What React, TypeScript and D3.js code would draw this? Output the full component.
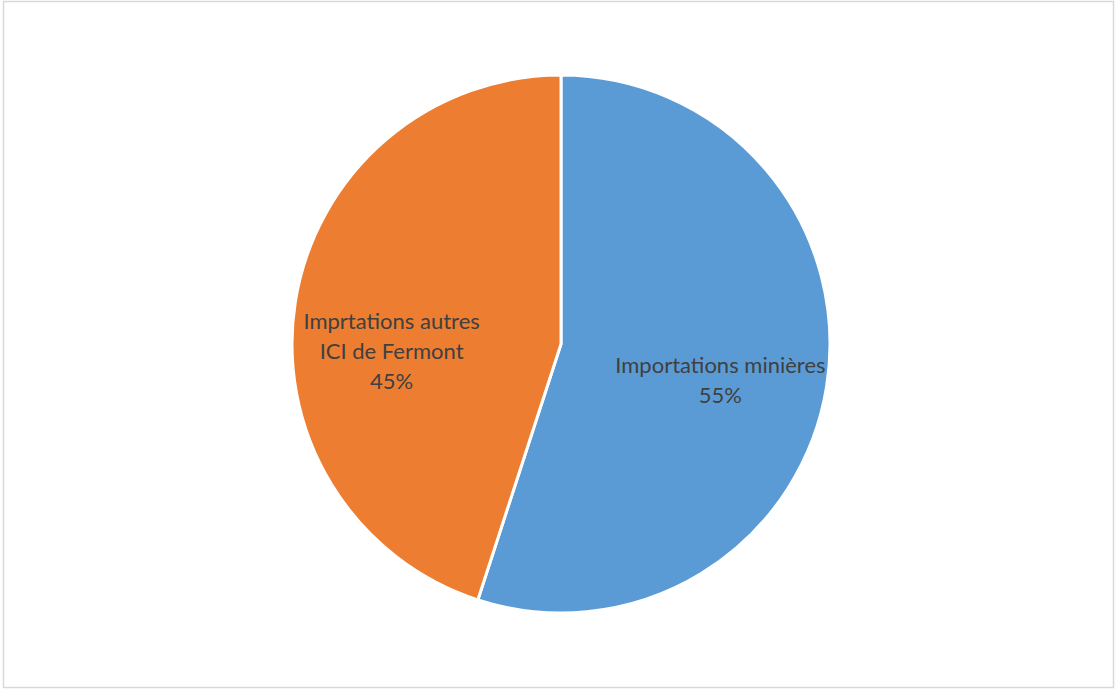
import React from "react";
import * as d3 from "d3";

const categories = ["Importations minières", "Imprtations autres ICI de Fermont"];
const labelLines = [["Importations minières"], ["Imprtations autres", "ICI de Fermont"]];
const values = [55, 45];
const colors = ["#5B9BD5", "#ED7D31"];

const W = 1116;
const H = 689;
const cx = 561;
const cy = 344;
const R = 269;
// best-fit label nudges (layout only)
const nudges: [number, number][] = [[0, 11], [-10, 33]];

export default function App() {
  const pie = d3.pie<number>().sort(null).value((d) => d);
  const arcs = pie(values);
  const arcGen = d3.arc<d3.PieArcDatum<number>>().innerRadius(0).outerRadius(R);
  const labelArc = d3.arc<d3.PieArcDatum<number>>().innerRadius(0).outerRadius(R * 1.2);
  const total = d3.sum(values);
  const lineH = 30;
  return (
    <svg width={W} height={H} style={{ position: "absolute", left: 0, top: 0, display: "block" }}>
      <rect x={3.5} y={1.5} width={1110} height={686} fill="#fff" stroke="#D9D9D9" strokeWidth={1.5} />
      <g transform={`translate(${cx},${cy})`}>
        {arcs.map((a, i) => (
          <path key={categories[i]} d={arcGen(a) || ""} fill={colors[i]} stroke="#fff" strokeWidth={3} />
        ))}
        {arcs.map((a, i) => {
          const [bx, by] = labelArc.centroid(a);
          const lx = bx + nudges[i][0];
          const ly = by + nudges[i][1];
          const lines = [...labelLines[i], `${Math.round((values[i] / total) * 100)}%`];
          const y0 = ly - ((lines.length - 1) * lineH) / 2;
          return (
            <text key={"l" + i} textAnchor="middle" fontFamily="Lato, 'Open Sans', sans-serif" fontSize={22} fill="#404040">
              {lines.map((t, j) => (
                <tspan key={j} x={lx} y={y0 + j * lineH} dy="0.35em">{t}</tspan>
              ))}
            </text>
          );
        })}
      </g>
    </svg>
  );
}
